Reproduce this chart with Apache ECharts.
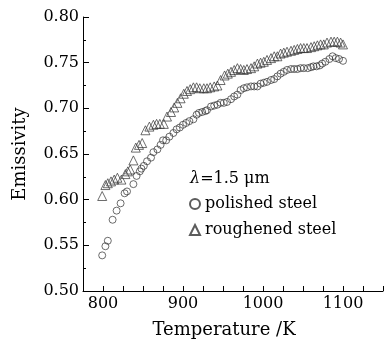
<!DOCTYPE html>
<html lang="en" style="height: 100%">
<head>
  <meta charset="utf-8">
</head>
<body style="height: 100%; margin: 0; background: #fff">
  <div id="container" style="width: 386px; height: 344px"></div>
  <script src="https://cdn.jsdelivr.net/npm/echarts@6/dist/echarts.min.js"></script>
  <script>
    // polished steel (circles)
    var polishedT = [799,803,806,812,817,822,827,830,838,842,846,848,851,855,860,863,868,872,875,879,883,888,892,896,900,904,908,913,917,920,924,928,930,935,939,943,947,951,955,960,964,968,972,976,980,985,989,993,997,1001,1005,1010,1014,1018,1022,1026,1030,1035,1039,1043,1047,1051,1056,1060,1063,1067,1071,1074,1078,1083,1087,1091,1095,1100];
    var polishedE = [0.539,0.549,0.555,0.578,0.588,0.596,0.607,0.609,0.617,0.626,0.631,0.634,0.637,0.642,0.646,0.652,0.655,0.660,0.665,0.665,0.669,0.673,0.677,0.679,0.682,0.684,0.686,0.688,0.693,0.695,0.696,0.697,0.698,0.702,0.703,0.704,0.706,0.706,0.707,0.710,0.713,0.715,0.720,0.722,0.723,0.724,0.724,0.724,0.727,0.728,0.729,0.731,0.732,0.735,0.738,0.740,0.742,0.743,0.743,0.743,0.744,0.744,0.744,0.745,0.746,0.746,0.747,0.749,0.751,0.754,0.757,0.755,0.754,0.752];
    // roughened steel (triangles)
    var roughT = [799,803,806,810,814,818,823,828,831,834,838,841,845,849,853,858,863,867,871,876,880,885,889,893,897,901,905,909,913,917,921,926,930,934,939,943,947,952,956,960,964,968,972,976,980,985,989,993,997,1001,1005,1010,1014,1018,1022,1026,1030,1035,1039,1043,1047,1051,1055,1060,1064,1068,1072,1076,1080,1085,1089,1093,1097,1100];
    var roughE = [0.604,0.616,0.618,0.620,0.622,0.624,0.622,0.628,0.631,0.633,0.643,0.657,0.660,0.662,0.676,0.680,0.682,0.683,0.683,0.683,0.691,0.696,0.701,0.706,0.711,0.716,0.719,0.721,0.723,0.723,0.722,0.722,0.722,0.723,0.724,0.725,0.731,0.736,0.738,0.740,0.742,0.744,0.743,0.742,0.743,0.744,0.746,0.749,0.750,0.751,0.753,0.755,0.757,0.757,0.760,0.761,0.762,0.763,0.764,0.765,0.766,0.766,0.766,0.767,0.768,0.769,0.770,0.770,0.772,0.773,0.773,0.773,0.772,0.770];
    var xLabels = [800, 900, 1000, 1100];

    function pairs(xs, ys) {
      return xs.map(function (x, i) { return [x, ys[i]]; });
    }

    var font = 'DejaVu Serif';
    var markStyle = { color: 'rgba(255,255,255,0)', borderColor: '#333', borderWidth: 0.9 };
    var myChart = echarts.init(document.getElementById('container'), null, { renderer: 'canvas' });

    var option = {
      animation: false,
      backgroundColor: '#fff',
      textStyle: { fontFamily: font, color: '#000' },
      grid: { left: 83, right: 3, top: 17, bottom: 53 },
      title: {
        text: '{i|λ}=1.5 μm',
        left: 190, top: 171, padding: 0,
        textStyle: {
          fontFamily: font, fontSize: 16, fontWeight: 'normal', color: '#000',
          rich: { i: { fontFamily: font, fontSize: 16, fontStyle: 'italic', color: '#000' } }
        }
      },
      legend: {
        orient: 'vertical',
        left: 189, top: 196, padding: 0,
        itemWidth: 10, itemHeight: 10, itemGap: 10,
        textStyle: { fontFamily: font, fontSize: 16, color: '#000' },
        data: ['polished steel', 'roughened steel']
      },
      xAxis: {
        type: 'value',
        min: 775, max: 1150, interval: 25,
        name: 'Temperature /K',
        nameLocation: 'middle', nameGap: 30,
        nameTextStyle: { fontFamily: font, fontSize: 18, color: '#000', padding: [0, 18, 0, 0] },
        axisLine: { lineStyle: { color: '#000', width: 1 } },
        axisTick: { inside: true, length: 5, lineStyle: { color: '#000' } },
        splitLine: { show: false },
        axisLabel: {
          fontFamily: font, fontSize: 16, color: '#000', margin: 5,
          formatter: function (v) { return xLabels.indexOf(v) >= 0 ? String(v) : ''; }
        }
      },
      yAxis: {
        type: 'value',
        min: 0.5, max: 0.8, interval: 0.05,
        name: 'Emissivity',
        nameLocation: 'middle', nameGap: 54,
        nameTextStyle: { fontFamily: font, fontSize: 18, color: '#000' },
        axisLine: { show: true, lineStyle: { color: '#000', width: 1 } },
        axisTick: { show: true, inside: true, length: 6, lineStyle: { color: '#000' } },
        minorTick: { show: true, splitNumber: 2, length: 3, lineStyle: { color: '#000' } },
        splitLine: { show: false },
        axisLabel: {
          fontFamily: font, fontSize: 16, color: '#000', margin: 4,
          formatter: function (v) { return v.toFixed(2); }
        }
      },
      series: [
        {
          name: 'polished steel',
          type: 'scatter',
          symbol: 'circle',
          symbolSize: 7,
          itemStyle: markStyle,
          data: pairs(polishedT, polishedE)
        },
        {
          name: 'roughened steel',
          type: 'scatter',
          symbol: 'triangle',
          symbolSize: 9,
          itemStyle: markStyle,
          data: pairs(roughT, roughE)
        }
      ]
    };

    myChart.setOption(option);
    window.addEventListener('resize', myChart.resize);
  </script>
</body>
</html>
